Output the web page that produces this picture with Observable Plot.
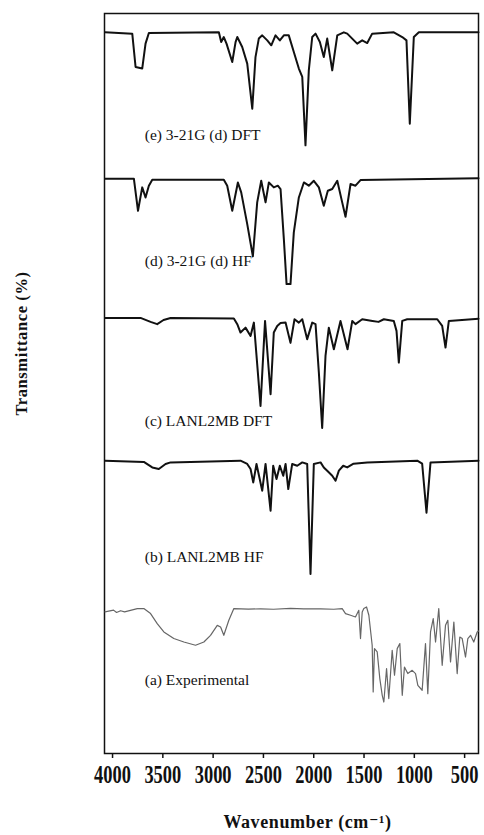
<!DOCTYPE html>
<html><head><meta charset="utf-8">
<script src="https://cdn.jsdelivr.net/npm/d3@7"></script>
<script src="https://cdn.jsdelivr.net/npm/@observablehq/plot@0.6"></script>
<style>body{margin:0;background:#fff}</style>
</head><body><div id="chart"></div>
<script>
// x axis ticks (cm^-1)
const xTicks = [4000, 3500, 3000, 2500, 2000, 1500, 1000, 500];

// spectrum names, stacking offsets (in % units) and label positions (transmittance %)
const seriesKeys = ["e", "d", "c", "b", "a"];
const seriesNames = ["(e) 3-21G (d) DFT", "(d) 3-21G (d) HF", "(c) LANL2MB DFT", "(b) LANL2MB HF", "(a) Experimental"];
const seriesOffsets = [501, 379, 263, 144, 21];
const labelWave = 3680;
const labelT = [14.2, 31.7, 14.2, 20, 40];

// (e) 3-21G (d) DFT
const eWave = [4075,3804,3771,3705,3672,3639,2943,2920,2894,2867,2810,2777,2760,2711,2661,2611,2579,2546,2512,2462,2422,2380,2337,2297,2248,2198,2148,2114,2082,2049,2015,1982,1939,1900,1866,1816,1766,1701,1667,1568,1518,1468,1419,1204,1120,1078,1045,1005,955,362];
const eT = [100,98.9,71.1,69.8,90.6,99.4,100,91.9,96.1,90.6,75.3,91.9,96.1,87.8,73.9,36.4,79.4,94.8,97.5,93.3,89.2,97.5,93.3,97.5,97.5,83.6,69.8,62.8,5.8,68.3,96.1,98.9,91.9,79.4,94.8,68.3,97.5,100,98.9,90.6,93.3,91.1,98.9,100,96.1,93.3,23.9,96.1,100,100];

// (d) 3-21G (d) HF
const dWave = [4075,3788,3747,3705,3672,3639,3605,2894,2860,2810,2754,2721,2661,2605,2562,2522,2479,2446,2397,2357,2330,2297,2270,2231,2198,2148,2098,2049,1999,1949,1900,1860,1816,1766,1717,1684,1634,1585,1535,362];
const dT = [100,100,73.3,92.8,84.4,94.2,99.2,99.2,94.2,73.3,96.9,88.6,62.2,35.3,80.3,98.3,80.3,96.9,92.8,94.2,91.4,49.7,12.2,12.2,55.3,84.4,96.9,94.2,98.3,92.8,77.5,90,91.4,98.3,80.3,68.3,95.6,94.2,98.9,100.5];

// (c) LANL2MB DFT
const cWave = [4075,3722,3622,3556,3493,3423,2794,2760,2728,2678,2628,2595,2529,2484,2429,2397,2363,2330,2280,2231,2191,2148,2114,2065,2015,1982,1949,1916,1883,1850,1800,1734,1664,1617,1585,1518,1416,1356,1303,1204,1177,1154,1120,1071,772,723,690,657,362];
const cT = [100,100,96.7,94.8,98.3,100,99.6,94.8,87.8,91.9,85,96.1,26.7,97.5,36.4,87.8,93.3,95.8,96.1,79.2,98.9,96.1,98.9,82.3,96.1,94.8,54.4,8.3,68.3,91.9,73.9,97.5,73.9,97.5,94.8,98.9,97.5,96.7,98.9,97.5,89.2,62.8,97.5,98.9,98.9,93.3,75.3,97.5,99.4];

// (b) LANL2MB HF
const bWave = [4075,3689,3605,3540,3473,3423,2728,2661,2628,2601,2569,2512,2479,2429,2403,2370,2337,2303,2280,2253,2214,2164,2114,2065,2032,1999,1932,1900,1866,1816,1783,1750,1707,1667,1604,1468,971,922,879,839,362];
const bT = [100,99,94.4,93.1,97.3,98.6,100,97.3,93.1,81.9,97.3,75,97.3,58.3,95.8,84.7,95.8,87.5,97.3,76.4,97.3,95.8,98.6,97.3,5.6,97.3,98.6,94.4,91.7,87.5,83.3,91.7,95.8,94.4,97.5,98.6,100,97.5,56.7,98.6,100];

// (a) Experimental
const aWave = [4075,3990,3960,3920,3880,3754,3689,3622,3556,3490,3391,3291,3175,3092,3026,2959,2926,2894,2844,2794,2650,2529,2400,2231,2100,1932,1800,1717,1684,1634,1585,1552,1535,1518,1502,1475,1452,1419,1409,1396,1369,1343,1319,1303,1276,1254,1220,1197,1170,1144,1120,1098,1065,1021,988,965,922,889,866,839,812,789,757,723,690,667,640,607,574,548,524,491,468,441,409,375,362];
const aT = [97,98.5,96.5,98,97,99.8,99.8,95.6,87.2,80.3,74.8,71.9,69.2,71.9,77.5,85.8,84.4,77.5,90,99.8,99.3,99.6,99.2,100,99.5,99.6,99.2,99.8,95.6,94.2,92.8,98.3,74.8,96.9,99.8,101.1,94.2,69.2,30.3,66.4,63.6,41.4,27.5,21.9,49.8,24.8,65,44.2,66.4,70.6,27.5,51.1,45.6,48.3,45.6,35.8,31.7,70.6,28.9,80.3,91.4,71.9,99.8,52.5,85.8,90,55.3,88.6,45.6,76.1,74.8,59.4,74.8,77.5,71.9,80.3,81];

const waves = [eWave, dWave, cWave, bWave, aWave];
const trans = [eT, dT, cT, bT, aT];

const calcRows = [];
const expRows = [];
seriesKeys.forEach((k, s) => {
  waves[s].forEach((w, i) => {
    const row = {series: k, w, y: seriesOffsets[s] + trans[s][i]};
    (k === "a" ? expRows : calcRows).push(row);
  });
});
const labelRows = seriesNames.map((name, s) => ({name, w: labelWave, y: seriesOffsets[s] + labelT[s]}));

const plot = Plot.plot({
  width: 484,
  height: 835,
  marginLeft: 104,
  marginRight: 6,
  marginTop: 13,
  marginBottom: 82,
  style: {fontFamily: "'Liberation Serif', 'DejaVu Serif', serif", background: "#fff", color: "#111"},
  x: {domain: [4080, 362]},
  y: {domain: [0, 616.7], axis: null},
  marks: [
    Plot.frame({stroke: "#111", strokeWidth: 1.5}),
    Plot.axisX({ticks: xTicks, tickSize: 5, tickPadding: 6, tickFormat: d => String(d), fontSize: 26, label: null, stroke: "#111", strokeWidth: 1.5}),
    Plot.line(expRows, {x: "w", y: "y", z: "series", stroke: "#666", strokeWidth: 1.2}),
    Plot.line(calcRows, {x: "w", y: "y", z: "series", stroke: "#111", strokeWidth: 2}),
    Plot.text(labelRows, {x: "w", y: "y", text: "name", textAnchor: "start", fontSize: 15.5, fill: "#111"}),
    Plot.text(["Wavenumber (cm⁻¹)"], {frameAnchor: "bottom", textAnchor: "middle", lineAnchor: "middle", dx: 16, dy: 69, fontSize: 18, fontWeight: "bold", fill: "#111"}),
    Plot.text(["Transmittance (%)"], {frameAnchor: "left", textAnchor: "middle", lineAnchor: "middle", rotate: -90, dx: -83, dy: -40, fontSize: 16.5, fontWeight: "bold", fill: "#111"})
  ]
});

const svg = d3.select(plot);
svg.selectAll('g[aria-label="x-axis tick label"] text')
  .attr("font-weight", "bold")
  .attr("transform", function() { return (this.getAttribute("transform") || "") + " scale(0.71,1)"; });
svg.selectAll('text').filter(function(){ return this.textContent === "Wavenumber (cm⁻¹)"; })
  .attr("letter-spacing", "0.6");
svg.selectAll('text').filter(function(){ return this.textContent === "Transmittance (%)"; })
  .attr("letter-spacing", "0.6");

document.getElementById("chart").appendChild(plot);
</script>
</body></html>
